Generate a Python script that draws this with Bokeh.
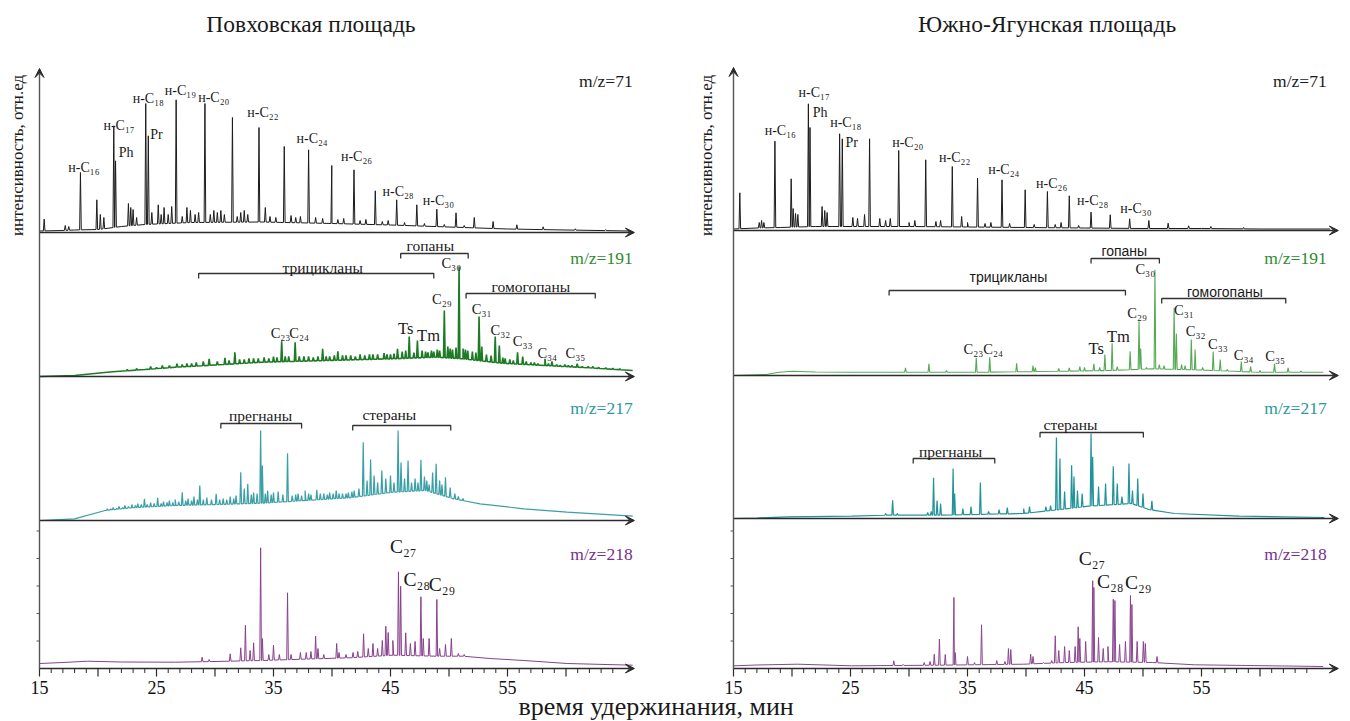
import numpy as np
from bokeh.plotting import figure
from bokeh.models import Range1d, Arrow, VeeHead, ColumnDataSource
from bokeh.core.properties import value
from bokeh.embed import file_html
from bokeh.resources import INLINE

# ================= DATA (retention time [min], relative intensity) =================
TITLES = ["Повховская площадь", "Южно-Ягунская площадь"]
Y_LABEL = "интенсивность, отн.ед"
X_LABEL = "время удержинания, мин"
MZ_LABELS = ["m/z=71", "m/z=191", "m/z=217", "m/z=218"]
TICK_LABELS = [15, 25, 35, 45, 55]
MAJOR_TICKS = [15, 20, 25, 30, 35, 40, 45, 50, 55, 60]
MINOR_TICKS = [t for t in range(16, 65) if t % 5]

# ---- left panel: Повховская ----
L71_BASE = [(15, 1.5), (17, 2), (18, 2.5), (20, 3), (22, 6), (24, 8), (28, 10), (34, 10.5), (40, 9),
            (45, 7.5), (50, 5.5), (55, 3.5), (60, 2.5), (65.5, 1.5)]
L71_PEAKS = [(15.4, 13.3), (17.2, 7), (17.5, 6), (18.5, 60), (19.9, 32.7), (20.2, 18), (20.5, 15),
             (21.35, 106.7), (21.5, 71.7), (22.6, 29), (22.8, 25), (23.0, 23), (23.3, 15), (24.08, 129),
             (24.3, 96.7), (24.6, 20), (25.15, 27.7), (25.4, 18), (25.65, 25), (26.0, 18), (26.3, 26),
             (26.68, 132.7), (27.2, 16), (27.6, 25), (27.9, 22), (28.3, 18), (28.6, 20), (29.14, 129),
             (29.6, 18), (29.9, 22), (30.2, 20), (30.5, 22), (30.8, 18), (31.49, 115), (31.9, 16),
             (32.2, 20), (32.5, 22), (32.8, 18), (33.76, 105), (34.3, 25), (34.7, 16), (35.2, 15),
             (35.92, 86), (36.5, 17), (36.9, 15), (37.3, 16), (38.0, 82.7), (38.6, 15), (39.2, 14),
             (39.98, 67), (40.5, 13), (41.0, 14), (41.88, 62.7), (42.4, 12), (42.9, 13), (43.7, 41.7),
             (44.3, 11), (44.8, 12), (45.53, 32.7), (46.2, 10), (47.25, 27.7), (47.9, 9), (48.96, 23.3),
             (49.6, 8), (50.6, 19.7), (51.3, 7), (52.16, 15), (53.77, 11), (55.8, 7.7), (58.05, 5.7),
             (60.8, 3.7), (63.4, 2.3)]
L191_BASE = [(15, 0), (18, 1), (21, 4.5), (24, 7), (26.6, 9.3), (30.3, 11.7), (34, 14.3), (39.6, 16),
             (45.2, 17.7), (48.9, 19.3), (51.2, 17.7), (54.5, 13.3), (58.2, 11), (62, 8.7), (65.7, 6)]
L191_PEAKS = [(22.5, 7), (23.3, 8), (24.5, 10), (25.0, 9), (25.5, 11), (26.1, 11), (26.75, 12.7),
              (27.2, 12), (27.6, 13), (28.0, 13), (28.4, 14), (29.0, 15), (29.5, 17.7), (30.2, 15),
              (30.85, 18.7), (31.2, 16), (31.7, 24.3), (32.1, 17), (32.5, 17), (32.9, 18), (33.3, 18),
              (33.7, 18), (34.2, 19), (34.6, 18), (35.0, 20), (35.3, 19), (35.7, 35.3), (36.0, 20),
              (36.3, 20), (36.85, 34.3), (37.2, 20), (37.6, 20), (38.0, 20), (38.4, 19), (38.8, 20),
              (39.2, 27.7), (39.5, 20), (39.8, 20), (40.2, 21), (40.5, 25.3), (40.9, 21), (41.2, 21),
              (41.6, 21), (42.0, 20), (42.4, 22), (42.8, 21), (43.2, 22), (43.5, 22), (43.9, 22),
              (44.45, 23.3), (44.7, 22), (45.0, 22), (45.3, 23), (45.6, 27.7), (46.0, 25), (46.3, 26),
              (46.6, 40), (47.0, 24), (47.3, 36), (47.7, 26), (48.0, 25), (48.2, 24), (48.5, 26),
              (48.7, 25), (49.0, 27), (49.2, 26), (49.6, 66), (49.9, 30), (50.1, 28), (50.3, 27),
              (50.6, 29), (50.86, 110), (51.2, 28), (51.4, 27), (51.6, 26), (52.0, 25), (52.3, 24),
              (52.57, 60), (52.8, 30), (53.2, 22), (53.6, 21), (53.95, 40), (54.3, 31), (54.6, 19),
              (54.8, 18), (55.2, 17), (55.5, 16), (55.86, 24.3), (56.3, 20), (56.6, 15), (57.0, 14),
              (57.3, 14), (57.6, 13), (58.2, 17.7), (58.5, 13), (58.8, 15), (59.2, 12), (59.5, 11),
              (59.9, 12), (60.2, 11), (60.5, 11), (60.96, 12.7), (61.4, 10), (61.9, 10), (62.3, 10),
              (62.8, 9), (63.4, 8.5), (64.0, 7.5), (64.6, 7)]
L217_BASE = [(15, 0), (18, 1.7), (20.6, 10), (22.85, 12.7), (26.6, 15), (30.3, 16), (34, 17.3),
             (37.7, 20), (41.5, 22.7), (45.2, 28.3), (48, 30), (50.4, 21.7), (52.65, 16.7), (56.4, 11.7),
             (60.1, 8.3), (65.7, 4.3)]
L217_PEAKS = [(20.8, 11.7), (21.1, 11), (21.3, 13), (21.6, 12), (21.8, 14), (22.1, 13), (22.3, 15),
              (22.6, 14), (22.9, 16), (23.2, 15), (23.4, 17), (23.7, 16), (23.97, 21.7), (24.2, 16),
              (24.5, 18), (24.8, 17), (25.1, 22.7), (25.4, 17), (25.6, 19), (25.9, 18), (26.1, 20),
              (26.4, 18), (26.6, 21), (26.9, 19), (27.2, 28.3), (27.5, 20), (27.7, 22), (28.0, 20),
              (28.2, 24), (28.5, 21), (28.7, 35), (29.0, 21), (29.3, 23), (29.7, 21), (30.1, 26.7),
              (30.4, 21), (30.7, 22), (31.0, 21), (31.3, 24), (31.6, 22), (31.8, 25), (32.2, 48.3),
              (32.5, 32), (32.8, 36.7), (33.1, 26), (33.3, 28), (33.6, 27), (33.9, 90), (34.05, 55),
              (34.3, 27), (34.5, 30), (34.8, 26), (35.0, 28), (35.4, 29), (35.8, 26), (36.2, 67.3),
              (36.6, 25), (36.9, 26), (37.1, 27), (37.4, 25), (37.7, 30), (38.0, 27), (38.2, 26),
              (38.7, 30.7), (39.0, 27), (39.3, 27), (39.6, 26), (39.8, 28), (40.1, 27), (40.36, 30),
              (40.6, 27), (40.9, 27), (41.2, 27), (41.4, 28), (41.7, 29), (41.9, 30), (42.3, 32),
              (42.67, 78.3), (43.0, 40), (43.3, 61), (43.6, 45), (43.9, 38), (44.26, 50), (44.6, 42),
              (45.0, 45), (45.3, 38), (45.65, 90), (45.9, 58), (46.2, 42), (46.5, 60), (46.8, 38),
              (47.1, 42), (47.35, 38), (47.6, 60.7), (47.9, 44), (48.1, 40), (48.3, 36), (48.6, 48),
              (48.9, 56.7), (49.2, 40), (49.4, 36), (49.7, 43.3), (50.1, 33), (50.5, 27), (50.8, 24),
              (51.2, 22)]
L218_BASE = [(15, 5), (17, 6), (19.1, 7.3), (22, 6.5), (26.6, 6.3), (30, 7), (34, 8), (38, 9.5),
             (41.5, 10.7), (45.2, 13.3), (48.9, 12.3), (51.2, 12.3), (53.5, 10), (56.4, 8), (60.1, 5),
             (65.7, 3.3)]
L218_PEAKS = [(28.9, 11.3), (29.5, 9), (31.3, 14.7), (32.2, 20.7), (32.6, 43.3), (33.0, 18), (33.3, 25.7),
              (33.9, 120.7), (34.05, 30), (34.6, 14), (35.0, 23.3), (35.5, 14), (36.2, 75.7), (36.5, 14),
              (37.3, 16), (37.8, 16), (38.2, 17), (38.6, 32.3), (38.8, 20), (39.3, 14), (40.4, 25),
              (40.6, 16), (41.2, 14), (41.8, 16), (42.2, 17), (42.7, 34.7), (43.1, 20), (43.5, 25),
              (43.9, 20), (44.3, 28), (44.6, 42.3), (44.8, 36), (45.2, 28), (45.68, 96.7), (45.87, 82.3),
              (46.3, 35.7), (46.7, 25), (47.1, 27), (47.6, 71.7), (47.8, 30), (48.3, 30), (48.96, 69),
              (49.2, 20), (49.7, 24), (50.2, 30), (50.8, 15), (51.3, 14)]

# ---- right panel: Южно-Ягунская ----
R71_BASE = [(15, 1.5), (17, 2.5), (19, 3), (22, 4), (26, 4), (30, 4), (35, 3.5), (40, 3), (45, 2.5),
            (50, 2), (55, 2), (60, 1.5), (66, 1.5)]
R71_PEAKS = [(15.54, 37.7), (17.2, 8), (17.4, 10), (17.6, 8), (18.54, 89.3), (19.93, 51.7), (20.1, 22),
             (20.3, 17), (20.5, 16), (21.4, 126.7), (21.54, 103), (22.57, 24), (22.8, 20), (23.0, 18),
             (24.07, 96.7), (24.3, 91.7), (25.2, 13), (25.6, 12), (26.2, 16), (26.63, 91.7), (27.5, 12),
             (28.0, 10), (28.4, 12), (29.12, 80), (30.0, 8), (30.5, 10), (31.43, 70.7), (32.3, 9),
             (32.7, 10), (33.7, 64), (34.5, 14), (35.0, 8), (35.86, 52.3), (36.5, 7), (37.0, 8),
             (37.95, 50.7), (38.6, 7), (39.93, 40.7), (40.7, 6), (41.83, 39), (42.5, 6), (43.0, 8),
             (43.7, 34.7), (44.5, 5), (45.56, 18.3), (47.2, 15.7), (48.86, 11.7), (50.5, 10), (52.15, 7.3),
             (53.9, 4.7), (55.8, 4), (58.6, 3)]
R191_BASE = [(15, 0), (17.8, 1), (18.9, 3.3), (20, 4.3), (22, 3.5), (25.1, 3.3), (36.1, 3.3), (43.4, 4.3),
             (47.1, 5), (50.76, 6.7), (54.4, 5.7), (59.9, 3.3), (65.4, 3.3)]
R191_PEAKS = [(29.7, 7.7), (31.7, 11.7), (33.2, 5), (35.75, 17.7), (36.9, 18.3), (39.2, 12.3), (40.6, 10),
              (40.8, 8), (42.8, 7), (43.7, 7.5), (44.6, 9), (45.0, 8), (45.8, 11.7), (46.3, 8),
              (46.74, 21), (47.36, 32.3), (47.8, 9), (48.9, 24.3), (49.66, 54.3), (49.8, 27), (50.3, 8),
              (51.02, 105.7), (51.4, 11), (51.8, 10), (52.66, 67.7), (52.85, 42), (53.3, 11), (53.6, 10),
              (54.13, 36), (54.45, 26), (55.1, 8), (56.0, 24), (56.6, 16), (57.2, 6), (58.4, 14),
              (59.2, 9), (60.0, 5), (61.24, 11.7), (62.4, 7.7), (63.5, 4)]
R217_BASE = [(15, 0), (17, 0.5), (19.6, 1.7), (25.1, 2.3), (28.1, 3.3), (32.5, 3.3), (39.8, 5), (42.4, 8.3),
             (45.3, 12.3), (49.0, 15), (50.5, 9), (52.7, 5), (58.2, 2.3), (65.5, 1)]
R217_PEAKS = [(28.0, 5), (28.6, 18.3), (29.0, 5), (31.6, 6), (31.9, 7), (32.1, 40.7), (32.4, 18), (32.7, 15),
              (33.77, 50), (33.9, 25), (34.6, 10), (35.3, 12), (36.1, 36), (36.8, 7), (37.7, 9), (38.4, 11),
              (39.8, 10), (40.3, 12), (41.7, 12), (42.1, 13), (42.6, 81), (42.9, 60), (43.3, 27),
              (43.9, 53.3), (44.1, 42), (44.4, 28), (44.8, 25), (45.56, 85), (45.7, 61.7), (46.2, 32),
              (46.8, 35), (47.46, 52.3), (47.8, 35), (48.2, 22), (48.8, 55), (49.1, 28), (49.55, 40),
              (50.0, 25), (50.76, 17.7)]
R218_BASE = [(15, 2.7), (17, 3.5), (20.5, 4.3), (25.1, 2.7), (32.5, 3.3), (39.8, 4.3), (43.4, 6), (47, 6.7),
             (50.8, 6), (54.4, 3.7), (65.4, 2)]
R218_PEAKS = [(28.7, 7.7), (29.5, 4), (31.3, 6), (31.8, 7), (32.16, 14.3), (32.6, 29.3), (33.1, 14),
              (33.84, 71), (33.95, 16), (35.0, 12), (35.6, 6), (36.2, 43.7), (37.5, 8), (38.2, 7),
              (38.5, 20), (38.7, 19), (40.4, 14.3), (40.6, 12), (41.5, 6), (42.2, 8), (42.5, 32.7),
              (42.8, 18), (43.3, 22), (43.7, 18), (44.2, 22), (44.46, 41.7), (44.6, 30), (45.1, 27),
              (45.7, 87.7), (45.8, 81), (46.2, 31), (46.6, 20), (47.0, 22), (47.46, 69.3), (47.6, 68),
              (48.0, 24), (48.5, 27), (48.93, 73), (49.05, 64), (49.5, 27), (50.03, 27), (50.2, 25),
              (51.2, 12)]

# ---- peak annotations: texts, times, heights ----
L71_LAB = ["н-C₁₆", "н-C₁₇", "Ph", "н-C₁₈", "Pr", "н-C₁₉", "н-C₂₀", "н-C₂₂", "н-C₂₄", "н-C₂₆", "н-C₂₈", "н-C₃₀"]
L71_LAB_T = [18.8, 21.8, 22.4, 24.3, 25.0, 27.05, 29.9, 34.1, 38.3, 42.1, 45.65, 49.1]
L71_LAB_H = [65, 107, 80, 134, 98, 142, 135, 120, 94, 76, 41, 32]
R71_LAB = ["н-C₁₆", "н-C₁₇", "Ph", "н-C₁₈", "Pr", "н-C₂₀", "н-C₂₂", "н-C₂₄", "н-C₂₆", "н-C₂₈", "н-C₃₀"]
R71_LAB_T = [19.0, 21.9, 22.4, 24.6, 25.1, 29.9, 33.9, 38.1, 42.2, 45.7, 49.4]
R71_LAB_H = [100, 138, 118, 108, 88, 88, 73, 61, 47, 30, 22]

HOP_LAB = ["C₂₃", "C₂₄", "Ts", "Tm", "C₂₉", "C₃₀", "C₃₁", "C₃₂", "C₃₃", "C₃₄", "C₃₅"]
L191_LAB_T = [35.6, 37.2, 46.3, 48.25, 49.4, 50.2, 52.8, 54.4, 56.3, 58.4, 60.8]
L191_LAB_H = [44, 44, 48, 41, 78, 114, 68, 47, 36, 24, 24]
R191_LAB_T = [35.5, 37.2, 46.0, 47.9, 49.5, 50.2, 53.5, 54.5, 56.4, 58.6, 61.3]
R191_LAB_H = [27, 27, 27, 39, 63, 107, 66, 45, 32, 21, 20]

GROUPS_191 = ["трицикланы", "гопаны", "гомогопаны"]
L191_BR = [(28.6, 48.7), (45.87, 51.64), (51.46, 62.5)]
L191_BR_H = [103, 123, 83]
L191_BR_TXT = [(39.2, 109), (48.4, 131), (57.0, 90)]
R191_BR = [(28.3, 48.5), (45.56, 51.4), (51.6, 62.2)]
R191_BR_H = [85, 117, 77]
R191_BR_TXT = [(38.5, 99), (48.4, 125), (57.0, 84)]

GROUPS_217 = ["прегнаны", "стераны"]
L217_BR = [(30.5, 37.4), (41.77, 50.15)]
L217_BR_H = [97, 95]
L217_BR_TXT = [(33.9, 105), (44.9, 106)]
R217_BR = [(30.36, 37.33), (41.2, 50.03)]
R217_BR_H = [60, 86]
R217_BR_TXT = [(33.55, 67), (43.8, 94)]

STER_LAB = ["C₂₇", "C₂₈", "C₂₉"]
L218_LAB_T = [46.1, 47.25, 49.4]
L218_LAB_H = [122, 89, 84]
R218_LAB_T = [45.64, 47.2, 49.6]
R218_LAB_H = [110, 87, 86]

Y_TICKS_218 = [27.5, 55, 82.5, 110, 137.5]

# ================= LAYOUT / STYLE =================
W, H = 1350, 721
PX_PER_MIN = 11.7
T15_PX = {"default": 39, "right": 733}          # canvas x of t = 15 min
BASE_Y = {"default": [489, 345, 201, 53],        # canvas y (from bottom) of the 4 trace axes
          "right": [491, 346, 203, 53]}
AXIS_TOP = {"default": 653, "right": 654}
AXIS_END = {"default": 65.85, "right": 66.7}
MZ_H = {"default": [152, 119, 113, 115], "right": [150, 118, 111, 115]}
TITLE_T = {"default": 38.2, "right": 41.8}
TITLE_Y = 698
YLAB_T = {"default": 13.12, "right": 12.69}
YLAB_Y = 566

SERIF = "Liberation Serif"
SANS = "Liberation Sans"
AX = "#2b2b2b"
TRACE_COL = {"default": ["#1c1c1c", "#1d7a25", "#3a9fa6", "#88408e"],
             "right": ["#1c1c1c", "#56aa56", "#23939a", "#8b4591"]}
TRACE_W = {"default": [1.0, 1.6, 1.2, 1.0], "right": [1.0, 1.1, 1.2, 1.0]}
MZ_COL = ["#1a1a1a", "#2f8a2f", "#2a979c", "#77308a"]


def rng_of(name):
    start = 15 - T15_PX[name] / PX_PER_MIN
    return Range1d(start, start + W / PX_PER_MIN)


p = figure(width=W, height=H, x_range=rng_of("default"), y_range=Range1d(0, H),
           x_axis_type=None, y_axis_type=None, toolbar_location=None,
           output_backend="svg", min_border=0)
p.extra_x_ranges = {"right": rng_of("right")}
p.outline_line_color = None
p.background_fill_color = "white"
p.border_fill_color = "white"


def add_text(xs, ys, labels, size, color="#1a1a1a", font=SERIF, align="center",
             baseline="middle", angle=0.0, rng="default"):
    src = ColumnDataSource(dict(x=list(xs), y=list(ys), text=list(labels)))
    p.text(x="x", y="y", text="text", source=src, text_font=value(font),
           text_font_size=value(f"{size}px"), text_color=color, text_align=align,
           text_baseline=baseline, angle=angle, x_range_name=rng)


def trace_xy(base, peaks, w=0.07):
    bt = np.array([b[0] for b in base], float)
    bh = np.array([b[1] for b in base], float)
    xs, ys = list(bt), list(bh)
    for t, h in peaks:
        b = np.interp(t, bt, bh)
        xs += [t - w, t, t + w]
        ys += [np.interp(t - w, bt, bh), max(h, b + 1.0), np.interp(t + w, bt, bh)]
    order = np.argsort(xs, kind="stable")
    return np.array(xs)[order], np.array(ys)[order]


def draw_panel(rng, traces, lab71_names, lab71, lab191, br191, br217, lab218, title):
    base_y = BASE_Y[rng]
    for k, (base, peaks) in enumerate(traces):
        x, y = trace_xy(base, peaks)
        p.line(x, y + base_y[k], line_color=TRACE_COL[rng][k], line_width=TRACE_W[rng][k],
               x_range_name=rng)
    # horizontal axes with arrows
    for k in range(4):
        p.add_layout(Arrow(end=VeeHead(size=9, fill_color=AX, line_color=AX, line_width=1),
                           x_start=15, y_start=base_y[k], x_end=AXIS_END[rng], y_end=base_y[k],
                           line_color=AX, line_width=1.4, x_range_name=rng))
    # vertical axis
    p.add_layout(Arrow(end=VeeHead(size=9, fill_color=AX, line_color=AX, line_width=1),
                       x_start=15, y_start=base_y[3] - 1, x_end=15, y_end=AXIS_TOP[rng],
                       line_color="#555555", line_width=1.4, x_range_name=rng))
    # bottom ticks
    y0 = base_y[3]
    p.segment(x0=MAJOR_TICKS, y0=[y0] * len(MAJOR_TICKS), x1=MAJOR_TICKS,
              y1=[y0 - 8] * len(MAJOR_TICKS), line_color=AX, line_width=1.2, x_range_name=rng)
    p.segment(x0=MINOR_TICKS, y0=[y0] * len(MINOR_TICKS), x1=MINOR_TICKS,
              y1=[y0 - 4.5] * len(MINOR_TICKS), line_color=AX, line_width=1.0, x_range_name=rng)
    add_text(TICK_LABELS, [y0 - 19] * len(TICK_LABELS), [str(t) for t in TICK_LABELS], 18,
             color="#111111", rng=rng)
    # small y ticks on the lowest section
    p.segment(x0=[15 - 0.25] * len(Y_TICKS_218), y0=[y0 + v for v in Y_TICKS_218],
              x1=[15] * len(Y_TICKS_218), y1=[y0 + v for v in Y_TICKS_218],
              line_color="#555555", line_width=1.0, x_range_name=rng)
    # m/z labels
    for k in range(4):
        add_text([65.7], [base_y[k] + MZ_H[rng][k]], [MZ_LABELS[k]], 17.5, color=MZ_COL[k],
                 align="right", rng=rng)
    # m/z 71 labels
    lt, lh = lab71
    add_text(lt, [base_y[0] + h for h in lh], lab71_names, 14, rng=rng)
    # m/z 191 labels
    lt, lh = lab191
    small = [i for i, s in enumerate(HOP_LAB) if s not in ("Ts", "Tm")]
    add_text([lt[i] for i in small], [base_y[1] + lh[i] for i in small], [HOP_LAB[i] for i in small],
             14.5, rng=rng)
    big = [i for i, s in enumerate(HOP_LAB) if s in ("Ts", "Tm")]
    add_text([lt[i] for i in big], [base_y[1] + lh[i] for i in big], [HOP_LAB[i] for i in big],
             16.5, rng=rng)
    # group brackets
    for (spans, hs, txt, names, k, font) in [(br191[0], br191[1], br191[2], GROUPS_191, 1,
                                              SERIF if rng == "default" else SANS),
                                             (br217[0], br217[1], br217[2], GROUPS_217, 2, SERIF)]:
        xs = [[a, a, b, b] for (a, b) in spans]
        ys = [[base_y[k] + h - 5, base_y[k] + h, base_y[k] + h, base_y[k] + h - 5] for h in hs]
        p.multi_line(xs, ys, line_color="#333333", line_width=1.3, x_range_name=rng)
        add_text([t for t, _ in txt], [base_y[k] + h for _, h in txt], names,
                 15.5 if font == SERIF else 14, font=font, rng=rng)
    # m/z 218 labels
    lt, lh = lab218
    add_text(lt, [base_y[3] + h for h in lh], STER_LAB, 19.5, rng=rng)
    # title and y label
    add_text([TITLE_T[rng]], [TITLE_Y], [title], 23.5, rng=rng)
    add_text([YLAB_T[rng]], [YLAB_Y], [Y_LABEL], 17, angle=np.pi / 2, rng=rng)


draw_panel("default", [(L71_BASE, L71_PEAKS), (L191_BASE, L191_PEAKS), (L217_BASE, L217_PEAKS),
                       (L218_BASE, L218_PEAKS)],
           L71_LAB, (L71_LAB_T, L71_LAB_H), (L191_LAB_T, L191_LAB_H),
           (L191_BR, L191_BR_H, L191_BR_TXT), (L217_BR, L217_BR_H, L217_BR_TXT),
           (L218_LAB_T, L218_LAB_H), TITLES[0])
draw_panel("right", [(R71_BASE, R71_PEAKS), (R191_BASE, R191_PEAKS), (R217_BASE, R217_PEAKS),
                     (R218_BASE, R218_PEAKS)],
           R71_LAB, (R71_LAB_T, R71_LAB_H), (R191_LAB_T, R191_LAB_H),
           (R191_BR, R191_BR_H, R191_BR_TXT), (R217_BR, R217_BR_H, R217_BR_TXT),
           (R218_LAB_T, R218_LAB_H), TITLES[1])

# shared x-axis title (placed with the left panel's time scale)
add_text([67.7], [1], [X_LABEL], 26, baseline="bottom")

open("out.html", "w", encoding="utf-8").write(file_html(p, INLINE))
